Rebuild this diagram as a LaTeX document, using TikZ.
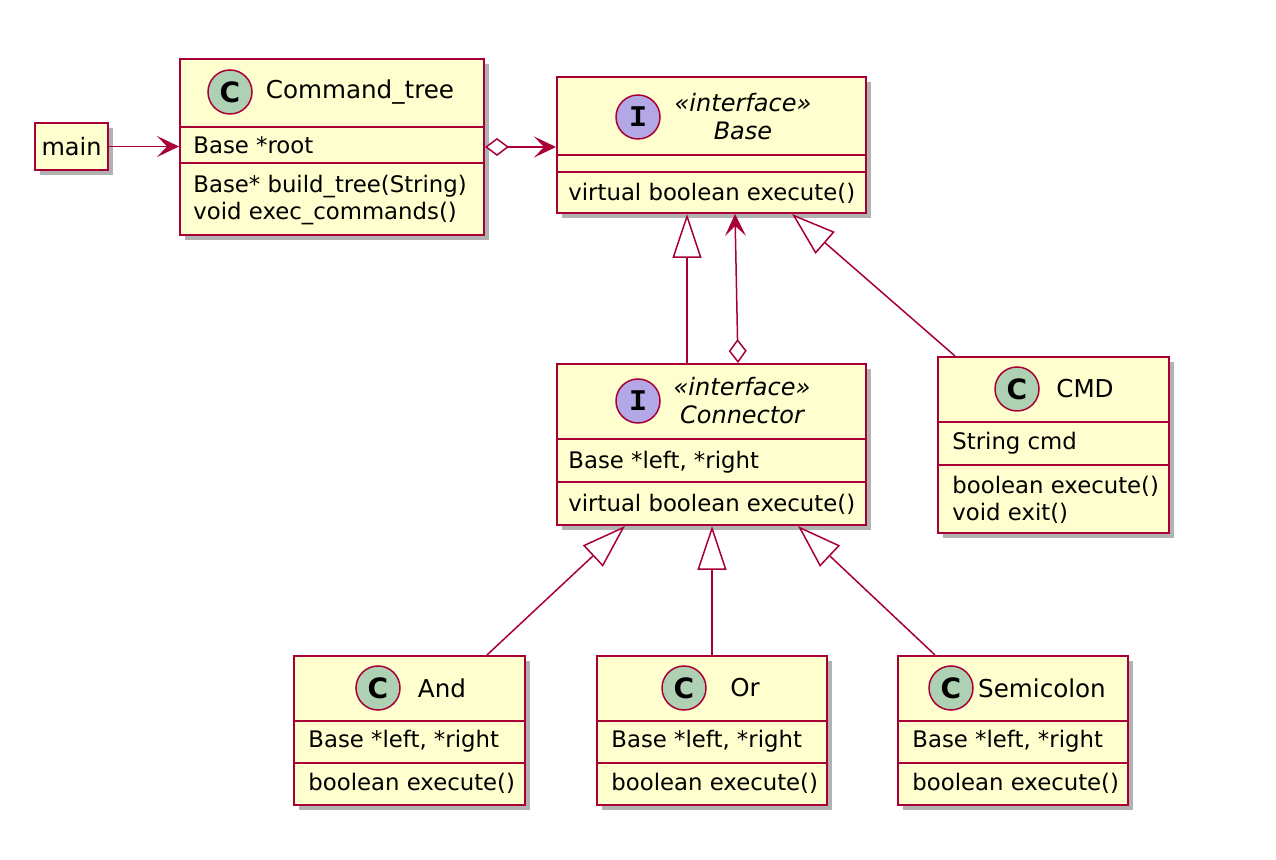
\documentclass[tikz,border=0pt]{standalone}
\usepackage{fontspec}
\setmainfont{DejaVu Sans}
\newfontfamily\iconmono{Liberation Mono}
\usetikzlibrary{arrows.meta,shadows}

\definecolor{umlfill}{HTML}{FEFECE}
\definecolor{umlborder}{HTML}{A80036}
\definecolor{umlclassicon}{HTML}{ADD1B2}
\definecolor{umlifaceicon}{HTML}{B4A7E5}

\tikzset{
  classbox/.style={draw=umlborder, fill=umlfill, line width=1pt, inner sep=0pt,
    drop shadow={shadow xshift=2.5pt, shadow yshift=-2.5pt, opacity=0.3, fill=black}},
  divider/.style={draw=umlborder, line width=1pt},
  member/.style={anchor=west, inner sep=0pt, align=left, font=\fontsize{11.4}{13.5}\selectfont},
  classname/.style={inner sep=0pt, font=\fontsize{12.3}{14}\selectfont},
  stereo/.style={inner sep=0pt, align=center, font=\fontsize{12}{14}\selectfont\itshape},
  classicon/.style={circle, draw=umlborder, fill=umlclassicon, line width=0.75pt,
    minimum size=22pt, inner sep=0pt, font=\fontsize{14}{14}\selectfont\bfseries},
  ifaceicon/.style={classicon, fill=umlifaceicon, font=\fontsize{15}{15}\selectfont\iconmono\bfseries},
  link/.style={draw=umlborder, line width=0.75pt},
  assoc/.style={link, -{Stealth[length=11pt, width=10.5pt, inset=5pt]}},
  aggr/.style={link, {Diamond[open, fill=white, length=12pt, width=9pt]}-{Stealth[length=11pt, width=10.5pt, inset=5pt]}},
  inherit/.style={link, -{Triangle[open, fill=white, length=22pt, width=14.5pt]}},
}

\begin{document}
\begin{tikzpicture}[x=0.5pt, y=-0.5pt]
    \useasboundingbox (0,0) rectangle (1276,860);

    % main
    \node[classbox, minimum width=36.5pt, minimum height=23.5pt, font=\fontsize{12}{14}\selectfont] (main) at (71.5,146.5) {main};

    % Command_tree
    \node[classbox, minimum width=152pt, minimum height=88pt] (cmdtree) at (332,147) {};
    \draw[divider] (cmdtree.west |- 0,127) -- (cmdtree.east |- 0,127);
    \draw[divider] (cmdtree.west |- 0,163) -- (cmdtree.east |- 0,163);
    \node[classicon] (cmdtreeicon) at (230,92) {C};
    \node[classname] (cmdtreename) at (360,92) {Command\_tree};
    \node[member] (cmdtreeattr) at (193,145) {Base *root};
    \node[member] (cmdtreeops) at (193,200) {Base* build\_tree(String)\\void exec\_commands()};

    % Base
    \node[classbox, minimum width=154.5pt, minimum height=68pt] (base) at (711.5,145) {};
    \draw[divider] (base.west |- 0,155) -- (base.east |- 0,155);
    \draw[divider] (base.west |- 0,172) -- (base.east |- 0,172);
    \node[ifaceicon] (baseicon) at (638,117) {I};
    \node[stereo] (basename) at (743,117) {«interface»\\Base};
    \node[member] (baseops) at (568,193) {virtual boolean execute()};

    % Connector
    \node[classbox, minimum width=154.5pt, minimum height=80.5pt] (conn) at (711.5,444.5) {};
    \draw[divider] (conn.west |- 0,439) -- (conn.east |- 0,439);
    \draw[divider] (conn.west |- 0,482) -- (conn.east |- 0,482);
    \node[ifaceicon] (connicon) at (638,401) {I};
    \node[stereo] (connname) at (742,401) {«interface»\\Connector};
    \node[member] (connattr) at (568,462) {Base *left, *right};
    \node[member] (connops) at (568,504) {virtual boolean execute()};

    % CMD
    \node[classbox, minimum width=115.5pt, minimum height=88pt] (cmd) at (1053.5,445) {};
    \draw[divider] (cmd.west |- 0,422) -- (cmd.east |- 0,422);
    \draw[divider] (cmd.west |- 0,465) -- (cmd.east |- 0,465);
    \node[classicon] (cmdicon) at (1017,389) {C};
    \node[classname] (cmdname) at (1085,389) {CMD};
    \node[member] (cmdattr) at (952,443) {String cmd};
    \node[member] (cmdops) at (952,500) {boolean execute()\\void exit()};

    % And, Or, Semicolon
    \node[classbox, minimum width=115.5pt, minimum height=74.5pt] (andcls) at (409.5,730.5) {};
    \draw[divider] (andcls.west |- 0,721) -- (andcls.east |- 0,721);
    \draw[divider] (andcls.west |- 0,763) -- (andcls.east |- 0,763);
    \node[classicon] (andicon) at (378,688) {C};
    \node[classname] (andname) at (442,688) {And};
    \node[member] (andattr) at (308,741) {Base *left, *right};
    \node[member] (andops) at (308,783) {boolean execute()};

    \node[classbox, minimum width=115pt, minimum height=74.5pt] (orcls) at (712,730.5) {};
    \draw[divider] (orcls.west |- 0,721) -- (orcls.east |- 0,721);
    \draw[divider] (orcls.west |- 0,763) -- (orcls.east |- 0,763);
    \node[classicon] (oricon) at (684,688) {C};
    \node[classname] (orname) at (745,688) {Or};
    \node[member] (orattr) at (611,741) {Base *left, *right};
    \node[member] (orops) at (611,783) {boolean execute()};

    \node[classbox, minimum width=115pt, minimum height=74.5pt] (semicls) at (1013,730.5) {};
    \draw[divider] (semicls.west |- 0,721) -- (semicls.east |- 0,721);
    \draw[divider] (semicls.west |- 0,763) -- (semicls.east |- 0,763);
    \node[classicon] (semiicon) at (951,688) {C};
    \node[classname] (seminame) at (1042,688) {Semicolon};
    \node[member] (semiattr) at (912,741) {Base *left, *right};
    \node[member] (semiops) at (912,783) {boolean execute()};

    % draw connectors
    \draw[assoc] (main.east) -- (main.east -| cmdtree.west);
    \draw[aggr] (cmdtree.east) -- (cmdtree.east -| base.west);
    \draw[inherit] ([xshift=-12.25pt]conn.north) -- ([xshift=-12.25pt]conn.north |- base.south);
    \draw[aggr] ([xshift=13.25pt]conn.north) -- ([xshift=11.75pt]base.south);
    \draw[inherit] ([xshift=-49.25pt]cmd.north) -- ([xshift=40.25pt]base.south);
    \draw[inherit] ([xshift=38.75pt]andcls.north) -- ([xshift=-43.25pt]conn.south);
    \draw[inherit] (orcls.north) -- (orcls.north |- conn.south);
    \draw[inherit] ([xshift=-39pt]semicls.north) -- ([xshift=43.25pt]conn.south);
  \end{tikzpicture}
\end{document}
